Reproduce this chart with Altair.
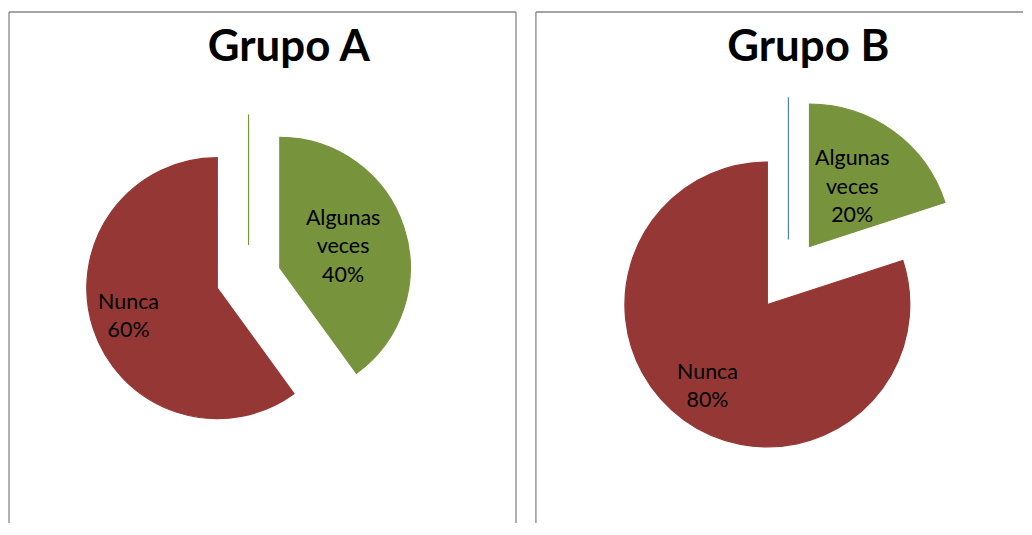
import altair as alt
import pandas as pd

# ---- data ----
groups = ["Grupo A", "Grupo A", "Grupo A", "Grupo B", "Grupo B", "Grupo B"]
categories = ["Siempre", "Algunas veces", "Nunca", "Siempre", "Algunas veces", "Nunca"]
values = [0, 40, 60, 0, 20, 80]
order = [0, 1, 2, 0, 1, 2]

df = pd.DataFrame({"group": groups, "category": categories, "value": values, "order": order})

cat_domain = ["Siempre", "Algunas veces", "Nunca"]
RED = "#953735"
GREEN = "#77933C"
BLUE = "#4F81BD"
BORDER = "#878787"
LINE_H = 28.5


def panel(group, W, H, CX, CY, R, D, title_x, zero_color, right_border):
    base = (
        alt.Chart(df)
        .transform_filter(alt.datum.group == group)
        .transform_joinaggregate(total="sum(value)", groupby=["group"])
        .transform_window(cum="sum(value)", sort=[alt.SortField("order")],
                          groupby=["group"], frame=[None, 0])
        .transform_calculate(
            t1="datum.cum / datum.total * 2 * PI",
            t0="(datum.cum - datum.value) / datum.total * 2 * PI",
        )
        .transform_calculate(mid="(datum.t0 + datum.t1) / 2")
        .transform_calculate(
            cx=f"{CX} + {D} * sin(datum.mid)",
            cy=f"{CY} - {D} * cos(datum.mid)",
            lf="datum.category == 'Nunca' ? 0.715 : 0.51",
            label="replace(datum.category, ' ', '\\n') + '\\n' + format(datum.value / datum.total, '.0%')",
        )
        .transform_calculate(
            nlines="length(split(datum.label, '\\n'))",
        )
        .transform_calculate(
            lx=f"datum.cx + datum.lf * {R} * sin(datum.mid)",
            ly=f"datum.cy - datum.lf * {R} * cos(datum.mid) - (datum.nlines - 1) * {LINE_H} / 2",
        )
    )

    color_scale = alt.Scale(domain=cat_domain, range=[zero_color, GREEN, RED])
    arcs = base.mark_arc(radius=R, strokeWidth=1.2).encode(
        x=alt.X("cx:Q", scale=None),
        y=alt.Y("cy:Q", scale=None),
        theta=alt.Theta("t0:Q", scale=None),
        theta2=alt.Theta2("t1:Q"),
        fill=alt.Fill("category:N", scale=color_scale, legend=None),
        stroke=alt.Stroke("category:N", scale=color_scale, legend=None),
    )

    labels = base.transform_filter(alt.datum.value > 0).mark_text(
        font="Lato", fontSize=21.5, lineBreak="\n", lineHeight=LINE_H,
        align="center", baseline="middle", color="black",
    ).encode(
        x=alt.X("lx:Q", scale=None),
        y=alt.Y("ly:Q", scale=None),
        text="label:N",
    )

    title = alt.Chart(pd.DataFrame({"t": [group]})).mark_text(
        font="Lato", fontSize=44, fontWeight="bold", align="center",
        baseline="alphabetic", color="black",
    ).encode(x=alt.value(title_x), y=alt.value(49), text="t:N")

    one = pd.DataFrame({"t": [0]})
    rules = [
        alt.Chart(one).mark_rule(color=BORDER, strokeWidth=1.3).encode(
            x=alt.value(0), y=alt.value(0), y2=alt.value(H)),
        alt.Chart(one).mark_rule(color=BORDER, strokeWidth=1.3).encode(
            x=alt.value(0), x2=alt.value(W), y=alt.value(0)),
    ]
    if right_border:
        rules.append(
            alt.Chart(one).mark_rule(color=BORDER, strokeWidth=1.3).encode(
                x=alt.value(W), y=alt.value(0), y2=alt.value(H)))

    return alt.layer(*rules, arcs, labels, title).properties(width=W, height=H)


pA = panel("Grupo A", 509, 513, 240.5, 267, 131, 33, 281, GREEN, True)
pB = panel("Grupo B", 489, 513, 253.5, 264.5, 143, 36, 273.5, BLUE, False)

chart = (
    alt.hconcat(pA, pB, spacing=18)
    .resolve_scale(fill="independent", stroke="independent")
    .properties(padding={"left": 0, "top": 2, "right": 0, "bottom": 0})
    .configure_view(stroke=None)
)

chart.save("out.html", embed_options={"renderer": "svg", "actions": False})
